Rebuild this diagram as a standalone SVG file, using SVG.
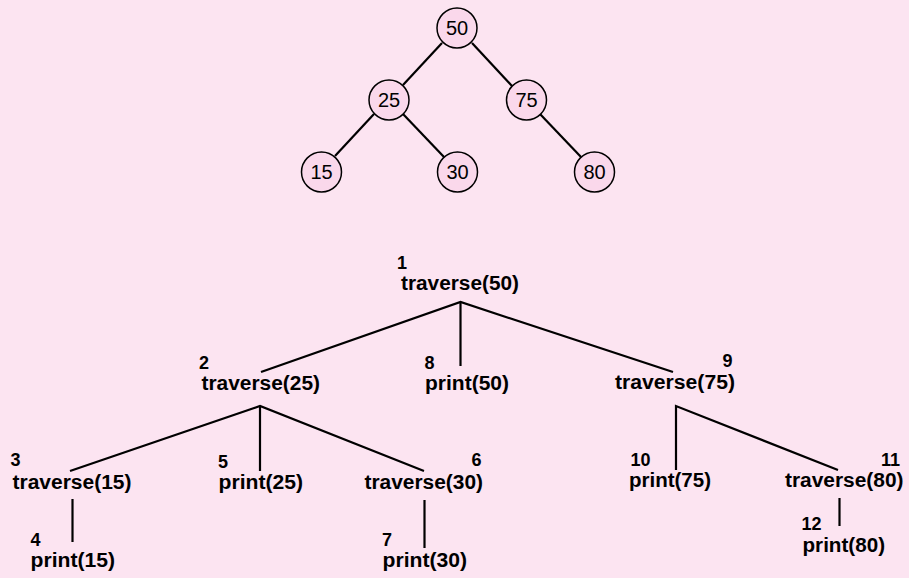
<svg xmlns="http://www.w3.org/2000/svg" width="909" height="578" viewBox="0 0 909 578">
<style>
.bg{fill:#fce4f1}
.c{fill:#fad8eb;stroke:#000;stroke-width:1.5}
.ct{font-family:"Liberation Sans",Arial,sans-serif;font-size:20px;text-anchor:middle;fill:#000}
.t{font-family:"Liberation Sans",Arial,sans-serif;font-size:20px;font-weight:bold;fill:#000}
.n{font-family:"Liberation Sans",Arial,sans-serif;font-size:18px;font-weight:bold;fill:#000}
.e{stroke:#000;stroke-width:2.2;fill:none}
</style>
<rect class="bg" x="0" y="0" width="909" height="578"/>
<g id="connectors">
<line class="e" x1="442" y1="43" x2="403" y2="85"/>
<line class="e" x1="472" y1="43" x2="512" y2="86"/>
<line class="e" x1="374" y1="114" x2="335" y2="156"/>
<line class="e" x1="403" y1="114" x2="444" y2="157"/>
<line class="e" x1="540" y1="114" x2="581" y2="157"/>
<polyline class="e" points="261,372 460.5,302 673,372"/>
<line class="e" x1="460.5" y1="302" x2="460.5" y2="366"/>
<polyline class="e" points="70,471 260,406 424,471"/>
<line class="e" x1="260" y1="406" x2="260" y2="471"/>
<line class="e" x1="72.5" y1="499" x2="72.5" y2="542"/>
<line class="e" x1="424.5" y1="500" x2="424.5" y2="548"/>
<polyline class="e" points="676,470 676,406 838,470"/>
<line class="e" x1="839.5" y1="498" x2="839.5" y2="526"/>
</g>
<g id="n50"><circle class="c" cx="457" cy="28" r="20"/><text class="ct" x="457" y="35">50</text></g>
<g id="n25"><circle class="c" cx="389" cy="100" r="20"/><text class="ct" x="389" y="107">25</text></g>
<g id="n75"><circle class="c" cx="526.5" cy="100" r="20"/><text class="ct" x="526.5" y="107">75</text></g>
<g id="n15"><circle class="c" cx="321.5" cy="172" r="20"/><text class="ct" x="321.5" y="179">15</text></g>
<g id="n30"><circle class="c" cx="457.5" cy="172" r="20"/><text class="ct" x="457.5" y="179">30</text></g>
<g id="n80"><circle class="c" cx="594.5" cy="172" r="20"/><text class="ct" x="594.5" y="179">80</text></g>
<g id="s1"><text class="n" x="397" y="269">1</text><text class="t" x="401" y="290" textLength="118" lengthAdjust="spacingAndGlyphs">traverse(50)</text></g>
<g id="s2"><text class="n" x="199" y="369">2</text><text class="t" x="201.5" y="390" textLength="118.5" lengthAdjust="spacingAndGlyphs">traverse(25)</text></g>
<g id="s8"><text class="n" x="424.5" y="369">8</text><text class="t" x="425" y="390" textLength="84" lengthAdjust="spacingAndGlyphs">print(50)</text></g>
<g id="s9"><text class="n" x="722.5" y="367">9</text><text class="t" x="615" y="389" textLength="120" lengthAdjust="spacingAndGlyphs">traverse(75)</text></g>
<g id="s3"><text class="n" x="10.5" y="466">3</text><text class="t" x="12.5" y="489" textLength="119" lengthAdjust="spacingAndGlyphs">traverse(15)</text></g>
<g id="s4"><text class="n" x="30.5" y="546">4</text><text class="t" x="30.5" y="567" textLength="84.5" lengthAdjust="spacingAndGlyphs">print(15)</text></g>
<g id="s5"><text class="n" x="218" y="468">5</text><text class="t" x="218.5" y="489" textLength="84.5" lengthAdjust="spacingAndGlyphs">print(25)</text></g>
<g id="s6"><text class="n" x="471.5" y="466">6</text><text class="t" x="364.5" y="489" textLength="118.5" lengthAdjust="spacingAndGlyphs">traverse(30)</text></g>
<g id="s7"><text class="n" x="382" y="546">7</text><text class="t" x="382.5" y="567" textLength="84.5" lengthAdjust="spacingAndGlyphs">print(30)</text></g>
<g id="s10"><text class="n" x="630.5" y="466">10</text><text class="t" x="629" y="487" textLength="82" lengthAdjust="spacingAndGlyphs">print(75)</text></g>
<g id="s11"><text class="n" x="881" y="466">11</text><text class="t" x="785" y="487" textLength="118.5" lengthAdjust="spacingAndGlyphs">traverse(80)</text></g>
<g id="s12"><text class="n" x="801.5" y="530">12</text><text class="t" x="802.5" y="552" textLength="82.5" lengthAdjust="spacingAndGlyphs">print(80)</text></g>
</svg>
